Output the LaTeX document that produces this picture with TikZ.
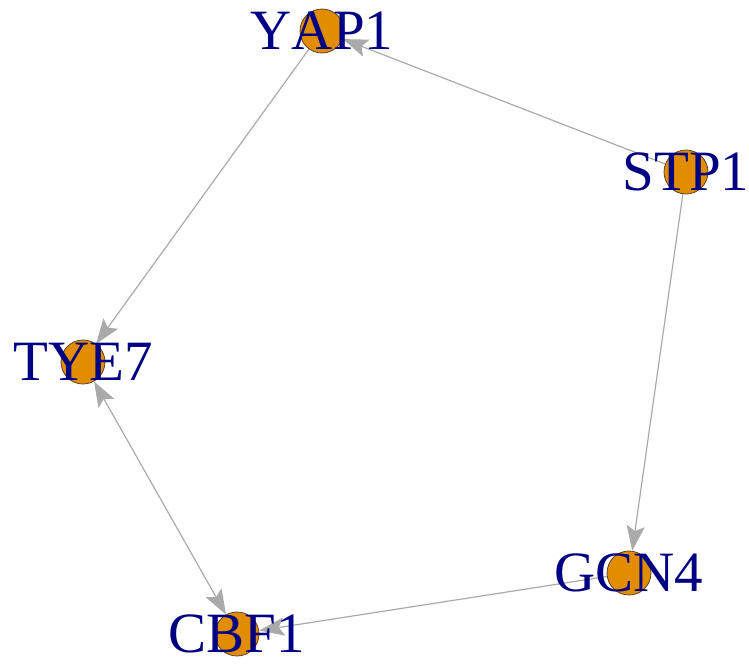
\documentclass[tikz,border=0pt]{standalone}
\usepackage{fontspec}
\setmainfont[Kerning=Off]{Liberation Serif}
\usetikzlibrary{arrows.meta}
\definecolor{vfill}{RGB}{226,140,0}
\definecolor{vline}{RGB}{90,70,40}
\definecolor{lcol}{RGB}{0,0,130}
\definecolor{ecol}{RGB}{170,170,170}
\tikzset{
  vtx/.style={circle, draw=vline, fill=vfill, line width=0.8pt, minimum size=44pt, inner sep=0pt},
  lbl/.style={text=lcol, font=\fontsize{57}{62}\selectfont, inner sep=0pt, anchor=center},
  head/.tip={Stealth[length=25pt, width=18pt, inset=5pt, fill=ecol]},
  arr/.style={draw=ecol, line width=1.2pt, -head},
  darr/.style={draw=ecol, line width=1.2pt, head-head}
}

\begin{document}
\begin{tikzpicture}[x=1pt, y=-1pt]
    \useasboundingbox (0,0) rectangle (749,664);
    % vertices
    \node[vtx] (yap) at (322,31) {};
    \node[vtx] (stp) at (686,172) {};
    \node[vtx] (tye) at (83,362) {};
    \node[vtx] (cbf) at (237,634) {};
    \node[vtx] (gcn) at (629,573) {};

    % edges
    \draw[arr] (stp) -- (yap);
    \draw[arr] (yap) -- (tye);
    \draw[arr] (stp) -- (gcn);
    \draw[arr] (gcn) -- (cbf);
    \draw[darr] (tye) -- (cbf);

    % labels on top
    \node[lbl] (yapl) at (yap) {YAP1};
    \node[lbl] (stpl) at (stp) {STP1};
    \node[lbl] (tyel) at (tye) {TYE7};
    \node[lbl] (cbfl) at (cbf) {CBF1};
    \node[lbl] (gcnl) at (gcn) {GCN4};
  \end{tikzpicture}
\end{document}
